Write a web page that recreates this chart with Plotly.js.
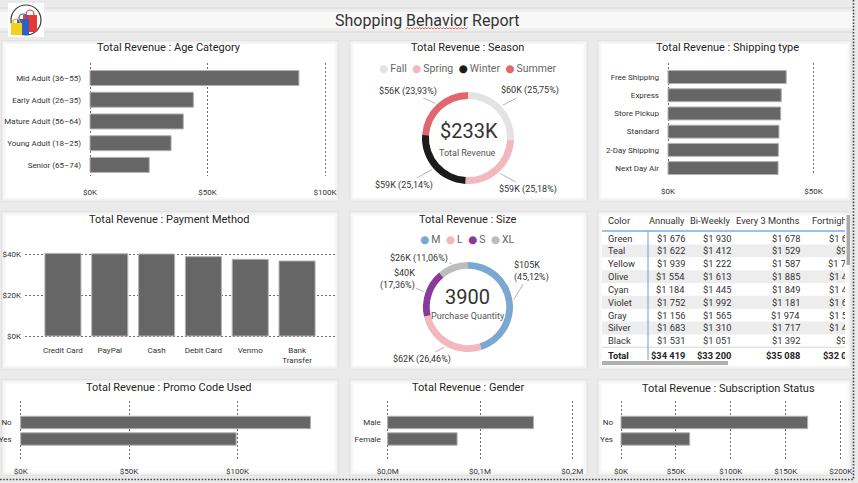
<!DOCTYPE html>
<html>
<head>
<meta charset="utf-8">
<script src="https://cdn.plot.ly/plotly-3.0.1.min.js"></script>
<style>
  html, body { margin: 0; padding: 0; background: #eaeaea; overflow: hidden; }
  #wrap { position: relative; width: 858px; height: 483px; }
  #dash { position: absolute; left: 0; top: 0; width: 858px; height: 483px; }
  #tblClip { position: absolute; left: 600px; top: 213px; width: 245px; height: 152px; overflow: hidden; }
  #tbl { width: 262px; height: 152px; }
</style>
</head>
<body>
<div id="wrap">
  <div id="dash"></div>
  <div id="tblClip"><div id="tbl"></div></div>
</div>
<script>
// ---------------- data ----------------
const ageCategories = ['Mid Adult (36–55)', 'Early Adult (26–35)', 'Mature Adult (56–64)', 'Young Adult (18–25)', 'Senior (65–74)'];
const ageRevenue = [88900, 44000, 39700, 34500, 25200];
const ageTickVals = [0, 50000, 100000];
const ageTickText = ['$0K', '$50K', '$100K'];

const seasons = ['Fall', 'Spring', 'Winter', 'Summer'];
const seasonRevenue = [60018, 58679, 58607, 55777];

const shippingTypes = ['Free Shipping', 'Express', 'Store Pickup', 'Standard', '2-Day Shipping', 'Next Day Air'];
const shippingRevenue = [40600, 38900, 38700, 38100, 37900, 37800];
const shippingTickVals = [0, 50000];
const shippingTickText = ['$0K', '$50K'];

const paymentMethods = ['Credit Card', 'PayPal', 'Cash', 'Debit Card', 'Venmo', 'Bank Transfer'];
const paymentTickLabels = ['Credit Card', 'PayPal', 'Cash', 'Debit Card', 'Venmo', 'Bank<br>Transfer'];
const paymentRevenue = [40300, 40100, 40000, 38700, 37400, 36600];
const paymentTickVals = [0, 20000, 40000];
const paymentTickText = ['$0K', '$20K', '$40K'];

const sizes = ['M', 'L', 'S', 'XL'];
const sizeRevenue = [105167, 61667, 40468, 25779];
const purchaseQuantity = 3900;

const tableHeader = ['Color', 'Annually', 'Bi-Weekly', 'Every 3 Months', 'Fortnightly'];
const tableColors = ['Green', 'Teal', 'Yellow', 'Olive', 'Cyan', 'Violet', 'Gray', 'Silver', 'Black'];
const annually = [1676, 1622, 1939, 1554, 1184, 1752, 1156, 1683, 1531];
const biWeekly = [1930, 1412, 1222, 1613, 1445, 1992, 1565, 1310, 1051];
const every3Months = [1678, 1529, 1587, 1885, 1849, 1181, 1974, 1717, 1392];
const fortnightly = [1602, 915, 1734, 1475, 1493, 1662, 1513, 1452, 996];
const columnTotals = [34419, 33200, 35088, 32003];

const promoUsed = ['No', 'Yes'];
const promoRevenue = [133700, 99400];
const promoTickVals = [0, 50000, 100000];
const promoTickText = ['$0K', '$50K', '$100K'];

const genders = ['Male', 'Female'];
const genderRevenue = [157900, 75200];
const genderTickVals = [0, 100000, 200000];
const genderTickText = ['$0,0M', '$0,1M', '$0,2M'];

const subscriptionStatus = ['No', 'Yes'];
const subscriptionRevenue = [169900, 62500];
const subscriptionTickVals = [0, 50000, 100000, 150000, 200000];
const subscriptionTickText = ['$0K', '$50K', '$100K', '$150K', '$200K'];

// ---------------- styling ----------------
const FONT = 'Roboto, "DejaVu Sans", sans-serif';
const TABLE_FONT = 'Roboto, "DejaVu Sans", sans-serif';
const seasonColors = ['#e3e3e3', '#f2b8bd', '#1b1b1b', '#e0666f'];
const sizeColors = ['#7ba7d3', '#f2b8bd', '#8b3a9b', '#bcbcbc'];
const BAR_FILL = '#666666';
const BAR_EDGE = '#b2b2b2';
const GRID_COLOR = '#6e6e6e';
const W = 858, H = 483;
const fx = p => p / W;          // pixel x -> paper
const fy = p => 1 - p / H;      // pixel y -> paper
const tickFont = { family: FONT, size: 8, color: '#333' };
const PAD = 2;                  // keeps gridlines at the range ends visible

function valueAxis(x0, x1, anchor, range, vals, texts, standoff) {
  const perPx = (range[1] - range[0]) / (x1 - x0);
  return {
    domain: [fx(x0 - PAD), fx(x1 + PAD)], anchor: anchor,
    range: [range[0] - PAD * perPx, range[1] + PAD * perPx],
    tickmode: 'array', tickvals: vals, ticktext: texts,
    showgrid: true, gridcolor: GRID_COLOR, griddash: '2px,2px', gridwidth: 1,
    zeroline: false, showline: false, ticks: '', tickfont: tickFont,
    ticklabelstandoff: standoff, fixedrange: true
  };
}
function categoryAxis(bottom, top, anchor, range, standoff) {
  return {
    domain: [fy(bottom), fy(top)], anchor: anchor, type: 'category', range: range,
    showgrid: false, zeroline: false, showline: false, ticks: '',
    tickfont: tickFont, ticklabelstandoff: standoff, fixedrange: true
  };
}
function hbar(x, y, xa, ya, width) {
  return {
    type: 'bar', orientation: 'h', x: x, y: y, xaxis: xa, yaxis: ya, width: width,
    marker: { color: BAR_FILL, line: { color: BAR_EDGE, width: 1 } },
    hoverinfo: 'skip', showlegend: false
  };
}
function donut(labels, values, colors, cx, cy, r) {
  return {
    type: 'pie', labels: labels, values: values, hole: 0.85, sort: false,
    direction: 'clockwise', rotation: 0, textinfo: 'none', hoverinfo: 'skip',
    showlegend: false, marker: { colors: colors, line: { width: 0 } },
    domain: { x: [fx(cx - r), fx(cx + r)], y: [fy(cy + r), fy(cy - r)] }
  };
}

// ---------------- traces ----------------
const traces = [
  hbar(ageRevenue, ageCategories, 'x', 'y', 0.69),
  hbar(shippingRevenue, shippingTypes, 'x2', 'y2', 0.71),
  {
    type: 'bar', x: paymentMethods, y: paymentRevenue, xaxis: 'x3', yaxis: 'y3', width: 0.77,
    marker: { color: BAR_FILL, line: { color: BAR_EDGE, width: 1 } }, hoverinfo: 'skip', showlegend: false
  },
  hbar(promoRevenue, promoUsed, 'x4', 'y4', 0.75),
  hbar(genderRevenue, genders, 'x5', 'y5', 0.75),
  hbar(subscriptionRevenue, subscriptionStatus, 'x6', 'y6', 0.75),
  donut(seasons, seasonRevenue, seasonColors, 468, 138, 46),
  donut(sizes, sizeRevenue, sizeColors, 468, 307, 45)
];

// ---------------- decoration ----------------
const shapes = [];
function rectPx(x0, y0, x1, y1, fill, extra) {
  return Object.assign({ type: 'rect', xref: 'paper', yref: 'paper', x0: fx(x0), x1: fx(x1),
    y0: fy(y1), y1: fy(y0), fillcolor: fill, line: { width: 0 }, layer: 'below' }, extra || {});
}
// header band
shapes.push(rectPx(0, 7, 853, 33, '#e2e2e2'));
shapes.push(rectPx(0, 9, 853, 31, '#eeeeee'));
shapes.push(rectPx(0, 12, 853, 28, '#f8f8f8'));

// cards with a soft edge
const cards = [
  [2, 41, 338, 201], [350, 41, 587, 201], [598, 41, 851, 201],
  [2, 212, 338, 369], [350, 212, 587, 369], [598, 212, 851, 369],
  [2, 380, 338, 475], [350, 380, 587, 475], [598, 380, 851, 475]
];
cards.forEach(c => {
  shapes.push(rectPx(c[0] - 1, c[1] - 1, c[2] + 1, c[3] + 1, '#e3e3e3'));
  shapes.push(rectPx(c[0], c[1], c[2], c[3], '#eeeeee'));
  shapes.push(rectPx(c[0] + 1.5, c[1] + 1.5, c[2] - 1.5, c[3] - 1.5, '#f7f7f7'));
  shapes.push(rectPx(c[0] + 3.5, c[1] + 3.5, c[2] - 3.5, c[3] - 3.5, '#ffffff'));
});

// logo: shopping bags in a ring
shapes.push(rectPx(8, 3, 44, 37, '#ffffff', { layer: 'above' }));
function circlePx(x0, y0, x1, y1, color, width, fill) {
  return { type: 'circle', xref: 'paper', yref: 'paper', x0: fx(x0), x1: fx(x1), y0: fy(y1), y1: fy(y0),
    line: { color: color, width: width }, fillcolor: fill || 'rgba(0,0,0,0)', layer: 'above' };
}
shapes.push(circlePx(11, 5, 41, 35, '#3a3a3a', 1.2));
shapes.push(circlePx(26, 10, 34, 19, '#d9302c', 1.2));
shapes.push(rectPx(23, 15, 37, 32, '#e53935', { layer: 'above' }));
shapes.push(circlePx(19, 14, 27, 22, '#2d5bbf', 1.2));
shapes.push(rectPx(17, 19, 29, 35, '#2f5fc4', { layer: 'above' }));
shapes.push(circlePx(13, 19, 20, 26, '#d8b400', 1.2));
shapes.push(rectPx(11, 23, 22, 35, '#f3d01e', { layer: 'above' }));

// spell-check style squiggle under the title word
let sq = 'M ' + fx(406) + ' ' + fy(28.5);
for (let x = 407.5, k = 0; x <= 468; x += 1.5, k++) {
  sq += ' L ' + fx(x) + ' ' + fy(k % 2 === 0 ? 27.5 : 29);
}
shapes.push({ type: 'path', xref: 'paper', yref: 'paper', path: sq, line: { color: '#e2483d', width: 0.8 }, layer: 'above' });

// page border (dotted)
shapes.push({ type: 'line', xref: 'paper', yref: 'paper', x0: fx(853.5), x1: fx(853.5), y0: fy(0), y1: fy(479.5),
  line: { color: '#444', width: 1.6, dash: '1.6px,1.6px' }, layer: 'above' });
shapes.push({ type: 'line', xref: 'paper', yref: 'paper', x0: fx(0), x1: fx(853.5), y0: fy(479.5), y1: fy(479.5),
  line: { color: '#444', width: 1.6, dash: '1.6px,1.6px' }, layer: 'above' });

// table scrollbars
shapes.push(rectPx(846.5, 215, 850, 265, '#a9a9a9', { layer: 'above' }));
shapes.push(rectPx(602, 361, 728, 365, '#b0b0b0', { layer: 'above' }));

// ---------------- annotations ----------------
const annotations = [];
function textPx(x, y, text, size, color, extra) {
  return Object.assign({ xref: 'paper', yref: 'paper', x: fx(x), y: fy(y), text: text, showarrow: false,
    xanchor: 'center', yanchor: 'middle', font: { family: FONT, size: size, color: color } }, extra || {});
}
annotations.push(textPx(427, 20, 'Shopping Behavior Report', 16, '#333'));

const titles = [
  [169, 48, 'Total Revenue : Age Category'], [468, 48, 'Total Revenue : Season'],
  [727, 48, 'Total Revenue : Shipping type'], [169, 219, 'Total Revenue : Payment Method'],
  [468, 219, 'Total Revenue : Size'], [169, 387, 'Total Revenue : Promo Code Used'],
  [468, 387, 'Total Revenue : Gender'], [728, 388, 'Total Revenue : Subscription Status']
];
titles.forEach(t => annotations.push(textPx(t[0], t[1], t[2], 11, '#252423')));

function legendText(labels, colors) {
  return labels.map((l, i) => '<span style="color:' + colors[i] + '">●</span>\u2009' + l).join('  ');
}
annotations.push(textPx(468, 68, legendText(seasons, seasonColors), 10.5, '#666'));
annotations.push(textPx(468, 239, legendText(sizes, sizeColors), 10.5, '#666'));

const sum = a => a.reduce((s, v) => s + v, 0);
annotations.push(textPx(469, 131, '$' + Math.round(sum(seasonRevenue) / 1000) + 'K', 20, '#333'));
annotations.push(textPx(468, 153, 'Total Revenue', 9, '#555'));
annotations.push(textPx(468, 297, String(purchaseQuantity), 20, '#333'));
annotations.push(textPx(468, 316, 'Purchase Quantity', 9, '#555'));

// donut value labels with leader lines
function donutLabels(values, cx, cy, r, offsets, breaks, aligns) {
  const total = sum(values);
  let acc = 0;
  values.forEach((v, i) => {
    const mid = (acc + v / 2) / total * 2 * Math.PI;
    acc += v;
    const tx = cx + (r + 1) * Math.sin(mid), ty = cy - (r + 1) * Math.cos(mid);
    const pct = (v / total * 100).toFixed(2).replace('.', ',');
    const text = '$' + Math.round(v / 1000) + 'K' + (breaks[i] ? '<br>' : ' ') + '(' + pct + '%)';
    annotations.push({
      xref: 'paper', yref: 'paper', x: fx(tx), y: fy(ty), ax: cx + offsets[i][0] - tx, ay: cy + offsets[i][1] - ty,
      text: text, showarrow: true, arrowhead: 0, arrowwidth: 0.8, arrowcolor: '#a0a0a0', standoff: 1,
      align: aligns[i], font: { family: FONT, size: 9, color: '#333' }
    });
  });
}
donutLabels(seasonRevenue, 468, 138, 46, [[62, -47], [60, 51], [-64, 47], [-60, -47]],
  [false, false, false, false], ['center', 'center', 'center', 'center']);
donutLabels(sizeRevenue, 468, 307, 45, [[63, -36], [-46, 52], [-71, -28], [-49, -49]],
  [true, false, true, false], ['left', 'center', 'right', 'center']);

// ---------------- layout ----------------
const payPerPx = 48780 / 100;
const layout = {
  width: W, height: H, margin: { l: 0, r: 0, t: 0, b: 0 },
  paper_bgcolor: '#eaeaea', plot_bgcolor: 'rgba(0,0,0,0)', showlegend: false,
  font: { family: FONT },
  xaxis: valueAxis(90, 325, 'y', [0, 100000], ageTickVals, ageTickText, 10),
  yaxis: categoryAxis(176, 63, 'x', [4.51, -0.69], 6),
  xaxis2: valueAxis(668, 840, 'y2', [0, 59066], shippingTickVals, shippingTickText, 10),
  yaxis2: categoryAxis(175, 63, 'x2', [5.38, -0.77], 6),
  xaxis3: {
    domain: [fx(25), fx(335)], anchor: 'y3', type: 'category', range: [-0.81, 5.81],
    tickmode: 'array', tickvals: paymentMethods, ticktext: paymentTickLabels,
    showgrid: false, zeroline: false, showline: false, ticks: '', tickfont: tickFont,
    ticklabelstandoff: 6, fixedrange: true
  },
  yaxis3: {
    domain: [fy(336 + PAD), fy(236)], anchor: 'x3', range: [-PAD * payPerPx, 48780],
    tickmode: 'array', tickvals: paymentTickVals, ticktext: paymentTickText,
    showgrid: true, gridcolor: GRID_COLOR, griddash: '2px,2px', gridwidth: 1,
    zeroline: false, showline: false, ticks: '', tickfont: tickFont, ticklabelstandoff: 3, fixedrange: true
  },
  xaxis4: valueAxis(20.7, 335, 'y4', [0, 145000], promoTickVals, promoTickText, 5),
  yaxis4: categoryAxis(460, 401, 'x4', [2.27, -1.30], 6),
  xaxis5: valueAxis(387.7, 572.3, 'y5', [0, 200000], genderTickVals, genderTickText, 5),
  yaxis5: categoryAxis(460, 401, 'x5', [2.27, -1.30], 4),
  xaxis6: valueAxis(621, 840.7, 'y6', [0, 200000], subscriptionTickVals, subscriptionTickText, 5),
  yaxis6: categoryAxis(460, 401, 'x6', [2.27, -1.30], 5),
  shapes: shapes,
  annotations: annotations
};

Plotly.newPlot('dash', traces, layout, { displayModeBar: false, staticPlot: true });

// ---------------- colour / frequency matrix ----------------
const fmtMoney = v => '$' + String(v).replace(/\B(?=(\d{3})+(?!\d))/g, ' ');
const ROW_H = 12.85, FIRST_ROW = 25, HEADER_Y = 7, TOTAL_Y = 142;
const colRight = [87, 133, 202, 259];
const columns = [annually, biWeekly, every3Months, fortnightly];
const tShapes = [];
const tAnn = [];
const cellFont = { family: TABLE_FONT, size: 9.3, color: '#333' };
const boldFont = { family: TABLE_FONT, size: 9.3, color: '#222', weight: 'bold' };

tableColors.forEach((c, i) => {
  const yc = FIRST_ROW + i * ROW_H;
  if (i % 2 === 1) {
    tShapes.push({ type: 'rect', xref: 'x', yref: 'y', x0: 2, x1: 262, y0: yc - ROW_H / 2, y1: yc + ROW_H / 2,
      fillcolor: '#ededed', line: { width: 0 }, layer: 'below' });
  }
  tAnn.push({ xref: 'x', yref: 'y', x: 6, y: yc, text: c, showarrow: false, xanchor: 'left', yanchor: 'middle', font: cellFont });
  columns.forEach((col, j) => {
    tAnn.push({ xref: 'x', yref: 'y', x: colRight[j], y: yc, text: fmtMoney(col[i]), showarrow: false,
      xanchor: 'right', yanchor: 'middle', font: cellFont });
  });
});
tAnn.push({ xref: 'x', yref: 'y', x: 6, y: HEADER_Y, text: tableHeader[0], showarrow: false, xanchor: 'left', yanchor: 'middle', font: cellFont });
tableHeader.slice(1).forEach((h, j) => {
  tAnn.push({ xref: 'x', yref: 'y', x: colRight[j], y: HEADER_Y, text: h, showarrow: false, xanchor: 'right', yanchor: 'middle', font: cellFont });
});
tAnn.push({ xref: 'x', yref: 'y', x: 6, y: TOTAL_Y, text: '<b>Total</b>', showarrow: false, xanchor: 'left', yanchor: 'middle', font: boldFont });
columnTotals.forEach((t, j) => {
  tAnn.push({ xref: 'x', yref: 'y', x: colRight[j], y: TOTAL_Y, text: '<b>' + fmtMoney(t) + '</b>', showarrow: false,
    xanchor: 'right', yanchor: 'middle', font: boldFont });
});
// header rule, total rule and first-column rule
tShapes.push({ type: 'line', xref: 'x', yref: 'y', x0: 2, x1: 262, y0: 18, y1: 18, line: { color: '#78ade4', width: 1.4 }, layer: 'below' });
tShapes.push({ type: 'line', xref: 'x', yref: 'y', x0: 2, x1: 262, y0: 134.2, y1: 134.2, line: { color: '#d6d6d6', width: 1 }, layer: 'below' });
tShapes.push({ type: 'line', xref: 'x', yref: 'y', x0: 48, x1: 48, y0: 18, y1: 147, line: { color: '#78ade4', width: 1.2 }, layer: 'below' });

Plotly.newPlot('tbl', [], {
  width: 262, height: 152, margin: { l: 0, r: 0, t: 0, b: 0 },
  paper_bgcolor: 'rgba(0,0,0,0)', plot_bgcolor: 'rgba(0,0,0,0)',
  xaxis: { range: [0, 262], visible: false, fixedrange: true },
  yaxis: { range: [152, 0], visible: false, fixedrange: true },
  shapes: tShapes, annotations: tAnn, showlegend: false
}, { displayModeBar: false, staticPlot: true });
</script>
</body>
</html>
